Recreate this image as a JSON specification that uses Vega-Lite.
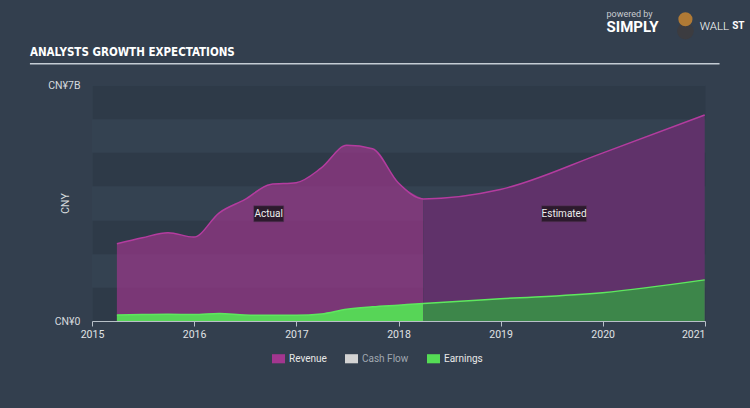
{
  "$schema": "https://vega.github.io/schema/vega-lite/v6.json",
  "width": 613,
  "height": 236,
  "autosize": "none",
  "padding": {"left": 92, "top": 85, "right": 45, "bottom": 87},
  "background": "#333f4e",
  "config": {
    "view": {"fill": "#344251", "stroke": null},
    "font": "Roboto"
  },
  "datasets": {
    "main": [
      {"date": "2015-03-31", "series": "Revenue", "period": "Actual", "value_bn": 2.29},
      {"date": "2015-06-30", "series": "Revenue", "period": "Actual", "value_bn": 2.47},
      {"date": "2015-09-30", "series": "Revenue", "period": "Actual", "value_bn": 2.62},
      {"date": "2015-12-31", "series": "Revenue", "period": "Actual", "value_bn": 2.49},
      {"date": "2016-03-31", "series": "Revenue", "period": "Actual", "value_bn": 3.21},
      {"date": "2016-06-30", "series": "Revenue", "period": "Actual", "value_bn": 3.60},
      {"date": "2016-09-30", "series": "Revenue", "period": "Actual", "value_bn": 4.05},
      {"date": "2016-12-31", "series": "Revenue", "period": "Actual", "value_bn": 4.10},
      {"date": "2017-03-31", "series": "Revenue", "period": "Actual", "value_bn": 4.54},
      {"date": "2017-06-30", "series": "Revenue", "period": "Actual", "value_bn": 5.21},
      {"date": "2017-09-30", "series": "Revenue", "period": "Actual", "value_bn": 5.11},
      {"date": "2017-12-31", "series": "Revenue", "period": "Actual", "value_bn": 4.10},
      {"date": "2018-03-31", "series": "Revenue", "period": "Actual", "value_bn": 3.62},
      {"date": "2018-03-31", "series": "Revenue", "period": "Estimated", "value_bn": 3.62},
      {"date": "2018-12-31", "series": "Revenue", "period": "Estimated", "value_bn": 3.90},
      {"date": "2019-12-31", "series": "Revenue", "period": "Estimated", "value_bn": 4.98},
      {"date": "2020-12-31", "series": "Revenue", "period": "Estimated", "value_bn": 6.11},
      {"date": "2015-03-31", "series": "Earnings", "period": "Actual", "value_bn": 0.18},
      {"date": "2015-06-30", "series": "Earnings", "period": "Actual", "value_bn": 0.19},
      {"date": "2015-09-30", "series": "Earnings", "period": "Actual", "value_bn": 0.20},
      {"date": "2015-12-31", "series": "Earnings", "period": "Actual", "value_bn": 0.19},
      {"date": "2016-03-31", "series": "Earnings", "period": "Actual", "value_bn": 0.22},
      {"date": "2016-06-30", "series": "Earnings", "period": "Actual", "value_bn": 0.18},
      {"date": "2016-09-30", "series": "Earnings", "period": "Actual", "value_bn": 0.17},
      {"date": "2016-12-31", "series": "Earnings", "period": "Actual", "value_bn": 0.17},
      {"date": "2017-03-31", "series": "Earnings", "period": "Actual", "value_bn": 0.21},
      {"date": "2017-06-30", "series": "Earnings", "period": "Actual", "value_bn": 0.35},
      {"date": "2017-09-30", "series": "Earnings", "period": "Actual", "value_bn": 0.42},
      {"date": "2017-12-31", "series": "Earnings", "period": "Actual", "value_bn": 0.47},
      {"date": "2018-03-31", "series": "Earnings", "period": "Actual", "value_bn": 0.52},
      {"date": "2018-03-31", "series": "Earnings", "period": "Estimated", "value_bn": 0.52},
      {"date": "2018-12-31", "series": "Earnings", "period": "Estimated", "value_bn": 0.66},
      {"date": "2019-12-31", "series": "Earnings", "period": "Estimated", "value_bn": 0.84},
      {"date": "2020-12-31", "series": "Earnings", "period": "Estimated", "value_bn": 1.22}
    ],
    "notes": [
      {"date": "2016-09-24", "label": "Actual", "value_bn": 3.18},
      {"date": "2019-08-16", "label": "Estimated", "value_bn": 3.18}
    ],
    "one": [{}]
  },
  "layer": [
    {
      "data": {"name": "main"},
      "transform": [{"filter": "datum.series === 'Revenue' && datum.period === 'Actual'"}],
      "mark": {"type": "area", "interpolate": "monotone", "fillOpacity": 0.65},
      "encoding": {
        "x": {
          "field": "date", "type": "temporal",
          "scale": {"domain": [{"year": 2015, "month": 1, "date": 1}, {"year": 2021, "month": 1, "date": 1}], "nice": false},
          "axis": {
            "title": null,
            "format": "%Y",
            "tickCount": {"interval": "year", "step": 1},
            "grid": false,
            "domainColor": "#b8c0c8",
            "tickColor": "#b8c0c8",
            "tickSize": 5,
            "labelColor": "#e0e3e6",
            "labelFontSize": 10.5,
            "labelPadding": 3,
            "labelFlush": false,
            "labelAlign": {"condition": {"test": "datum.value >= datetime(2020, 11, 1)", "value": "right"}, "value": "center"}
          }
        },
        "y": {
          "field": "value_bn", "type": "quantitative",
          "scale": {"domain": [0, 7], "nice": false},
          "axis": {
            "values": [0, 0.5, 2.5, 4.5, 6.5, 7],
            "labelExpr": "datum.value === 0 ? 'CN¥0' : (datum.value === 7 ? 'CN¥7B' : '')",
            "domain": false,
            "ticks": false,
            "grid": true,
            "gridWidth": 33.7,
            "gridColor": {"condition": {"test": "datum.value % 2 === 0.5", "value": "#2e3a48"}, "value": "transparent"},
            "labelColor": "#d6dade",
            "labelFontSize": 10.5,
            "labelPadding": 12,
            "title": "CNY",
            "titleColor": "#d6dade",
            "titleFontSize": 10.5,
            "titleFontWeight": "normal",
            "titleX": -27,
            "titleY": 118,
            "titleBaseline": "middle"
          }
        },
        "color": {
          "field": "series", "type": "nominal",
          "scale": {"domain": ["Revenue", "Cash Flow", "Earnings"], "range": ["#a3368f", "#d3d3d3", "#55dd55"]},
          "legend": {
            "title": null,
            "orient": "none",
            "direction": "horizontal",
            "legendX": 180,
            "legendY": 267,
            "symbolType": "M-1,-0.7H1V0.7H-1Z",
            "symbolSize": 169,
            "symbolOpacity": 1,
            "symbolStrokeWidth": 0,
            "labelFontSize": 10,
            "labelColor": "#e6e6e6",
            "columnPadding": 18,
            "labelOffset": 4,
            "encode": {"labels": {"update": {"fill": {"signal": "datum.label === 'Cash Flow' ? '#a0a8b0' : '#e8e8e8'"}}}}
          }
        }
      }
    },
    {
      "data": {"name": "main"},
      "transform": [{"filter": "datum.series === 'Revenue' && datum.period === 'Estimated'"}],
      "mark": {"type": "area", "interpolate": "monotone", "fill": "#60326a"},
      "encoding": {
        "x": {"field": "date", "type": "temporal"},
        "y": {"field": "value_bn", "type": "quantitative"}
      }
    },
    {
      "data": {"name": "main"},
      "transform": [{"filter": "datum.series === 'Revenue'"}],
      "mark": {"type": "line", "interpolate": "monotone", "stroke": "#b43c9f", "strokeWidth": 1.5},
      "encoding": {
        "x": {"field": "date", "type": "temporal"},
        "y": {"field": "value_bn", "type": "quantitative"}
      }
    },
    {
      "data": {"name": "main"},
      "transform": [{"filter": "datum.series === 'Earnings' && datum.period === 'Actual'"}],
      "mark": {"type": "area", "interpolate": "monotone", "fillOpacity": 0.95},
      "encoding": {
        "x": {"field": "date", "type": "temporal"},
        "y": {"field": "value_bn", "type": "quantitative"},
        "color": {"field": "series", "type": "nominal"}
      }
    },
    {
      "data": {"name": "main"},
      "transform": [{"filter": "datum.series === 'Earnings' && datum.period === 'Estimated'"}],
      "mark": {"type": "area", "interpolate": "monotone", "fill": "#3d864a"},
      "encoding": {
        "x": {"field": "date", "type": "temporal"},
        "y": {"field": "value_bn", "type": "quantitative"}
      }
    },
    {
      "data": {"name": "main"},
      "transform": [{"filter": "datum.series === 'Earnings'"}],
      "mark": {"type": "line", "interpolate": "monotone", "stroke": "#5ee85e", "strokeWidth": 1.5},
      "encoding": {
        "x": {"field": "date", "type": "temporal"},
        "y": {"field": "value_bn", "type": "quantitative"}
      }
    },
    {
      "data": {"name": "notes"},
      "transform": [{"filter": "datum.label === 'Actual'"}],
      "mark": {"type": "point", "shape": "M-1,-0.533H1V0.533H-1Z", "size": 900, "filled": true, "fill": "#2c1a2d", "stroke": "#5a3a5c", "strokeWidth": 0.5, "opacity": 1},
      "encoding": {
        "x": {"field": "date", "type": "temporal"},
        "y": {"field": "value_bn", "type": "quantitative"}
      }
    },
    {
      "data": {"name": "notes"},
      "transform": [{"filter": "datum.label === 'Estimated'"}],
      "mark": {"type": "point", "shape": "M-1,-0.356H1V0.356H-1Z", "size": 2025, "filled": true, "fill": "#2c1a2d", "stroke": "#5a3a5c", "strokeWidth": 0.5, "opacity": 1},
      "encoding": {
        "x": {"field": "date", "type": "temporal"},
        "y": {"field": "value_bn", "type": "quantitative"}
      }
    },
    {
      "data": {"name": "notes"},
      "mark": {"type": "text", "color": "#eeeeee", "fontSize": 10, "align": "center", "baseline": "middle"},
      "encoding": {
        "x": {"field": "date", "type": "temporal"},
        "y": {"field": "value_bn", "type": "quantitative"},
        "text": {"field": "label"}
      }
    },
    {
      "data": {"name": "one"},
      "mark": {"type": "text", "text": "ANALYSTS GROWTH EXPECTATIONS", "color": "#ffffff", "font": "DejaVu Sans Condensed", "fontSize": 11.5, "fontWeight": "bold", "align": "left", "baseline": "middle"},
      "encoding": {
        "x": {"datum": {"year": 2014, "month": 5, "date": 24}, "type": "temporal"},
        "y": {"datum": 7.95, "type": "quantitative"}
      }
    },
    {
      "data": {"name": "one"},
      "mark": {"type": "rule", "color": "#c4ccd4", "strokeWidth": 1.5},
      "encoding": {
        "x": {"datum": {"year": 2014, "month": 5, "date": 24}, "type": "temporal"},
        "x2": {"datum": {"year": 2021, "month": 2, "date": 22}},
        "y": {"datum": 7.63, "type": "quantitative"}
      }
    },
    {
      "data": {"name": "one"},
      "mark": {"type": "text", "text": "powered by", "color": "#c8ccd0", "fontSize": 9, "align": "left", "baseline": "middle"},
      "encoding": {
        "x": {"datum": {"year": 2020, "month": 1, "date": 15}, "type": "temporal"},
        "y": {"datum": 9.11, "type": "quantitative"}
      }
    },
    {
      "data": {"name": "one"},
      "mark": {"type": "text", "text": "SIMPLY", "color": "#ffffff", "fontSize": 15, "fontWeight": "bold", "align": "left", "baseline": "middle"},
      "encoding": {
        "x": {"datum": {"year": 2020, "month": 1, "date": 15}, "type": "temporal"},
        "y": {"datum": 8.72, "type": "quantitative"}
      }
    },
    {
      "data": {"name": "one"},
      "mark": {"type": "point", "shape": "circle", "size": 280, "filled": true, "color": "#3c3c40", "opacity": 1},
      "encoding": {
        "x": {"datum": {"year": 2020, "month": 10, "date": 23}, "type": "temporal"},
        "y": {"datum": 8.6, "type": "quantitative"}
      }
    },
    {
      "data": {"name": "one"},
      "mark": {"type": "point", "shape": "circle", "size": 200, "filled": true, "color": "#b07a35", "opacity": 1},
      "encoding": {
        "x": {"datum": {"year": 2020, "month": 10, "date": 23}, "type": "temporal"},
        "y": {"datum": 8.95, "type": "quantitative"}
      }
    },
    {
      "data": {"name": "one"},
      "mark": {"type": "text", "text": "WALL", "color": "#ffffff", "fontSize": 11.5, "fontWeight": 300, "align": "left", "baseline": "middle"},
      "encoding": {
        "x": {"datum": {"year": 2020, "month": 12, "date": 13}, "type": "temporal"},
        "y": {"datum": 8.72, "type": "quantitative"}
      }
    },
    {
      "data": {"name": "one"},
      "mark": {"type": "text", "text": "ST", "color": "#ffffff", "fontSize": 10, "fontWeight": "bold", "align": "left", "baseline": "middle"},
      "encoding": {
        "x": {"datum": {"year": 2021, "month": 4, "date": 8}, "type": "temporal"},
        "y": {"datum": 8.76, "type": "quantitative"}
      }
    }
  ]
}
